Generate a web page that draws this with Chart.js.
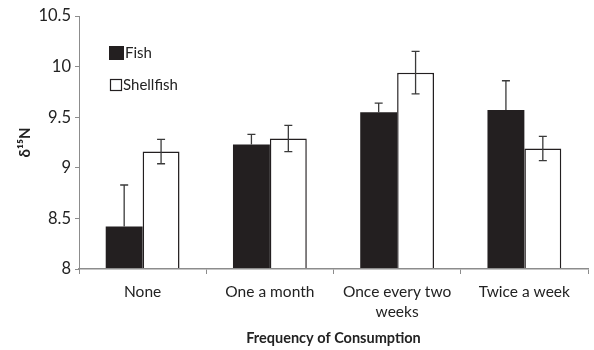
<!DOCTYPE html>
<html>
<head>
<meta charset="utf-8">
<script src="https://cdn.jsdelivr.net/npm/chart.js@4/dist/chart.umd.min.js"></script>
<style>
  html, body { margin: 0; padding: 0; background: #fff; }
  canvas { display: block; }
</style>
</head>
<body>
<canvas id="c" width="594" height="350"></canvas>
<script>
// Consumption frequency categories
const categories = ['None', 'One a month', ['Once every two', 'weeks'], 'Twice a week'];
// Mean δ15N values per group
const fishValues = [8.42, 9.23, 9.55, 9.57];
const shellfishValues = [9.16, 9.29, 9.94, 9.19];
// Error bar half-widths
const fishErrors = [0.41, 0.10, 0.09, 0.29];
const shellfishErrors = [0.12, 0.13, 0.21, 0.12];
// Y-axis range and step
const yMin = 8, yMax = 10.5, yStep = 0.5;

const FONT = 'Lato, "Open Sans", sans-serif';

// Draws error bars centred on each bar; the lower half is hidden inside solid bars
const errorBarPlugin = {
  id: 'errorBars',
  afterDatasetsDraw(chart) {
    const ctx = chart.ctx;
    const yScale = chart.scales.y;
    chart.data.datasets.forEach((ds, di) => {
      const meta = chart.getDatasetMeta(di);
      meta.data.forEach((bar, i) => {
        const v = ds.data[i], e = ds.errors[i];
        const top = yScale.getPixelForValue(v + e);
        const bot = ds.solid ? yScale.getPixelForValue(v) : yScale.getPixelForValue(v - e);
        ctx.save();
        ctx.strokeStyle = '#3a3a3a';
        ctx.lineWidth = 1.3;
        ctx.beginPath();
        ctx.moveTo(bar.x, top); ctx.lineTo(bar.x, bot);
        ctx.moveTo(bar.x - 4, top); ctx.lineTo(bar.x + 4, top);
        if (!ds.solid) { ctx.moveTo(bar.x - 4, bot); ctx.lineTo(bar.x + 4, bot); }
        ctx.stroke();
        ctx.restore();
      });
    });
  }
};

// Legend drawn inside the plot area
const insideLegendPlugin = {
  id: 'insideLegend',
  afterDraw(chart) {
    const ctx = chart.ctx;
    const x = chart.chartArea.left + 30;
    const rows = [chart.chartArea.top + 37, chart.chartArea.top + 69];
    chart.data.datasets.forEach((ds, di) => {
      const y = rows[di];
      ctx.save();
      ctx.fillStyle = ds.backgroundColor;
      ctx.strokeStyle = '#231f20';
      ctx.lineWidth = 1.2;
      if (di === 0) {
        ctx.fillRect(x, y - 7, 15, 14);
      } else {
        ctx.fillRect(x + 1.5, y - 5.5, 11, 11);
        ctx.strokeRect(x + 1.5, y - 5.5, 11, 11);
      }
      ctx.fillStyle = '#222';
      ctx.font = '15px ' + FONT;
      ctx.textBaseline = 'middle';
      ctx.fillText(ds.label, x + (di === 0 ? 16 : 14), y);
      ctx.restore();
    });
  }
};

new Chart(document.getElementById('c'), {
  type: 'bar',
  data: {
    labels: categories,
    datasets: [
      {
        label: 'Fish',
        data: fishValues,
        errors: fishErrors,
        solid: true,
        backgroundColor: '#231f20',
        borderWidth: 0,
        categoryPercentage: 0.58,
        barPercentage: 1.0
      },
      {
        label: 'Shellfish',
        data: shellfishValues,
        errors: shellfishErrors,
        solid: false,
        backgroundColor: '#ffffff',
        borderColor: '#231f20',
        borderWidth: { top: 1.5, left: 1.5, right: 1.5, bottom: 0 },
        categoryPercentage: 0.58,
        barPercentage: 1.0
      }
    ]
  },
  options: {
    responsive: false,
    animation: false,
    layout: { padding: { top: 16, right: 6, left: 0, bottom: 0 } },
    plugins: { legend: { display: false }, tooltip: { enabled: false } },
    scales: {
      x: {
        grid: { display: true, drawOnChartArea: false, drawTicks: true, tickLength: 5, color: '#8c8c8c', offset: true },
        border: { display: true, color: '#8c8c8c', width: 1.5, z: 1 },
        ticks: { color: '#222', font: { family: FONT, size: 15.5, lineHeight: 1.3 }, maxRotation: 0, autoSkip: false, padding: 8 },
        title: { display: true, text: 'Frequency of Consumption', color: '#222', font: { family: FONT, size: 14.5, weight: 'bold' }, padding: { top: 4, bottom: 3 } },
        afterFit(scale) { scale.height = 81; }
      },
      y: {
        min: yMin, max: yMax,
        grid: { display: true, drawOnChartArea: false, drawTicks: true, tickLength: 4, color: '#8c8c8c' },
        border: { display: true, color: '#8c8c8c', width: 1 },
        ticks: { stepSize: yStep, color: '#222', font: { family: FONT, size: 16.5 }, padding: 4,
                 callback: (v) => String(v) },
        title: { display: true, text: 'δ¹⁵N', color: '#222', font: { family: FONT, size: 15, weight: 'bold' }, padding: { top: 16, bottom: 0 } },
        afterFit(scale) { scale.width = 79; }
      }
    }
  },
  plugins: [errorBarPlugin, insideLegendPlugin]
});
</script>
</body>
</html>
